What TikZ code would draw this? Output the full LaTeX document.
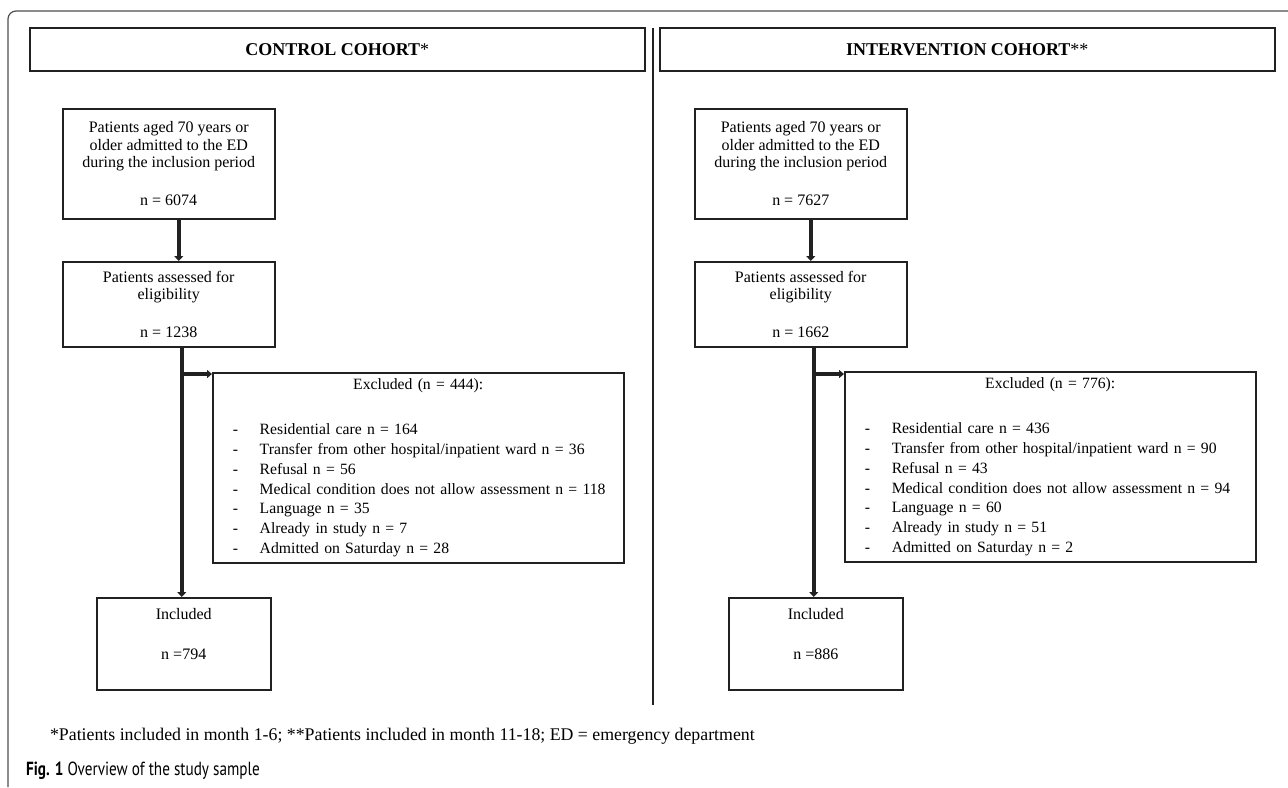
\documentclass[tikz,border=0pt]{standalone}
\usepackage{fontspec}
\setmainfont{Liberation Serif}
\newfontfamily\capfont{PT Sans}[FakeStretch=0.8]
\usetikzlibrary{arrows.meta}
\definecolor{line1}{rgb}{0.13,0.13,0.13}
\newcommand{\exitem}[1]{\mbox{\makebox[13.5pt][l]{-}#1}}

\begin{document}
\begin{tikzpicture}[x=0.5pt,y=-0.5pt]
    \tikzstyle{box} = [draw=line1,line width=0.75pt,anchor=north west,inner sep=0pt,align=center,font=\fontsize{8}{8.75}\selectfont]
    \tikzstyle{head} = [box,minimum width=307.5pt,minimum height=21.5pt,font=\fontsize{9}{10}\selectfont\bfseries]
    \tikzstyle{exbox} = [box,align=left,text width=185.5pt,inner xsep=10pt,minimum height=95pt,font=\fontsize{7.85}{9.85}\selectfont]
    \tikzstyle{flow} = [line1,line width=2.2pt,-{Triangle[length=2.5pt,width=4.5pt]}]
    \tikzstyle{side} = [line1,line width=1.6pt,-{Triangle[length=2.5pt,width=4pt]}]

    \useasboundingbox (0,0) rectangle (1288,787);

    % frame and divider
    \coordinate (f_r) at (1288,11);
    \coordinate (f_c) at (8,11);
    \coordinate (f_b) at (8,787);
    \draw[line1!80,line width=0.6pt,rounded corners=4pt] (f_r) -- (f_c) -- (f_b);
    \coordinate (d_t) at (653,28);
    \coordinate (d_b) at (653,705);
    \draw[line1,line width=0.75pt] (d_t) -- (d_b);

    % control cohort
    \node[head] (h_c) at (29,27) {CONTROL COHORT\textmd{*}};
    \node[box,minimum width=106pt,minimum height=55pt] (adm_c) at (62,108)
        {Patients aged 70 years or\\older admitted to the ED\\during the inclusion period\\[10pt]n = 6074};
    \node[box,minimum width=106pt,minimum height=42.5pt] (ass_c) at (62,261)
        {Patients assessed for\\eligibility\\[10pt]n = 1238};
    \node[exbox] (exc_c) at (212,372)
        {\makebox[185.5pt]{Excluded (n = 444):}\\[12.65pt]
         \exitem{Residential care n = 164}\\
         \exitem{Transfer from other hospital/inpatient ward n = 36}\\
         \exitem{Refusal n = 56}\\
         \exitem{Medical condition does not allow assessment n = 118}\\
         \exitem{Language n = 35}\\
         \exitem{Already in study n = 7}\\
         \exitem{Admitted on Saturday n = 28}};
    \node[box,minimum width=87pt,minimum height=46pt] (inc_c) at (96,597)
        {Included\\[11.25pt]n =794\\[1pt]\mbox{}};

    \coordinate (c_a) at ([xshift=5pt]adm_c.south);
    \coordinate (c_b) at ([xshift=6.5pt]ass_c.south);
    \coordinate (c_x) at ([yshift=-1pt]exc_c.north west);
    \path (c_a)        edge[flow] (c_a |- ass_c.north)
          (c_b)        edge[flow] (c_b |- inc_c.north)
          (c_b |- c_x) edge[side] (c_x);

    % intervention cohort
    \node[head] (h_i) at (659,27) {INTERVENTION COHORT\textmd{**}};
    \node[box,minimum width=106pt,minimum height=55pt] (adm_i) at (694,108)
        {Patients aged 70 years or\\older admitted to the ED\\during the inclusion period\\[10pt]n = 7627};
    \node[box,minimum width=106pt,minimum height=42.5pt] (ass_i) at (694,261)
        {Patients assessed for\\eligibility\\[10pt]n = 1662};
    \node[exbox] (exc_i) at (844,371)
        {\makebox[185.5pt]{Excluded (n = 776):}\\[12.65pt]
         \exitem{Residential care n = 436}\\
         \exitem{Transfer from other hospital/inpatient ward n = 90}\\
         \exitem{Refusal n = 43}\\
         \exitem{Medical condition does not allow assessment n = 94}\\
         \exitem{Language n = 60}\\
         \exitem{Already in study n = 51}\\
         \exitem{Admitted on Saturday n = 2}};
    \node[box,minimum width=87pt,minimum height=46pt] (inc_i) at (728,597)
        {Included\\[11.25pt]n =886\\[1pt]\mbox{}};

    \coordinate (i_a) at ([xshift=5pt]adm_i.south);
    \coordinate (i_b) at ([xshift=6.5pt]ass_i.south);
    \coordinate (i_x) at ([yshift=-1.5pt]exc_i.north west);
    \path (i_a)        edge[flow] (i_a |- ass_i.north)
          (i_b)        edge[flow] (i_b |- inc_i.north)
          (i_b |- i_x) edge[side] (i_x);

    % notes
    \node[anchor=base west,font=\fontsize{8.9}{10}\selectfont] (note) at (43,740)
        {*Patients included in month 1-6; **Patients included in month 11-18; ED = emergency department};
    \node[anchor=base west,font=\capfont\fontsize{9.5}{11}\selectfont] (cap) at (19,775)
        {\textbf{Fig. 1} Overview of the study sample};
\end{tikzpicture}
\end{document}
